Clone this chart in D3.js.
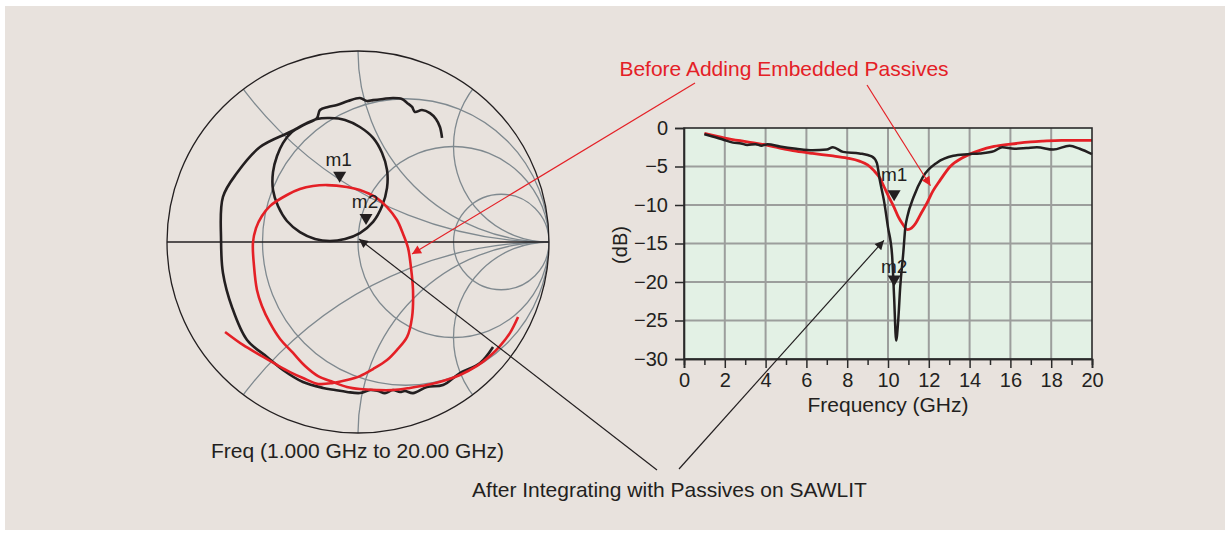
<!DOCTYPE html>
<html><head><meta charset="utf-8">
<script src="https://cdn.jsdelivr.net/npm/d3@7"></script>
<style>
html,body{margin:0;padding:0;background:#fff;}
svg{display:block;font-family:"Liberation Sans",Arial,Helvetica,sans-serif;}
</style></head><body>
<svg id="c" width="1230" height="535"></svg>
<script>
// ---------------- data ----------------
const xTicks = [0,2,4,6,8,10,12,14,16,18,20];
const xMinorTicks = [1,3,5,7,9,11,13,15,17,19];
const yTicks = [0,-5,-10,-15,-20,-25,-30];

const freqBlack = [1.0,1.4,1.9,2.4,2.8,3.1,3.5,3.8,4.1,4.7,5.5,6.3,7.0,7.3,7.8,8.6,9.2,9.45,9.6,9.8,10.0,10.2,10.3,10.4,10.5,10.6,10.75,10.85,10.95,11.25,11.7,12.4,13.2,13.9,14.5,15.2,15.6,16.2,16.8,17.3,18.1,18.9,19.4,20.0];
const dbBlack   = [-0.8,-1.1,-1.5,-1.9,-2.0,-2.2,-2.1,-2.3,-2.1,-2.4,-2.7,-2.9,-2.8,-2.5,-3.1,-3.3,-3.7,-4.5,-6.8,-9.4,-12.9,-16.5,-22.0,-27.6,-25.0,-20.6,-16.2,-12.9,-11.5,-9.0,-6.4,-4.5,-3.6,-3.4,-3.3,-3.0,-2.5,-2.7,-2.6,-2.5,-2.8,-2.3,-2.7,-3.4];

const freqRed = [1.0,2.0,3.1,4.0,4.7,5.5,6.3,7.2,8.0,8.6,9.0,9.3,9.6,9.8,10.05,10.3,10.5,10.7,10.95,11.15,11.35,11.6,11.9,12.2,12.55,13.05,13.7,14.5,15.2,16.0,17.0,17.6,18.5,20.0];
const dbRed   = [-0.7,-1.3,-1.8,-2.2,-2.6,-3.0,-3.3,-3.6,-3.9,-4.3,-4.8,-5.5,-6.5,-7.6,-9.0,-10.3,-11.5,-12.4,-13.2,-13.0,-12.4,-11.2,-9.8,-8.2,-6.8,-5.0,-3.8,-2.9,-2.4,-2.1,-1.8,-1.7,-1.6,-1.6];

// reflection coefficient (real, imaginary), 1 GHz -> 20 GHz
const smithBlackRe = [0.707,0.639,0.534,0.445,0.361,0.288,0.246,0.220,0.183,0.141,0.105,0.063,0.010,-0.058,-0.120,-0.183,-0.288,-0.393,-0.476,-0.581,-0.660,-0.707,-0.717,-0.707,-0.634,-0.513,-0.356,
  -0.277,-0.215,-0.147,-0.068,0.010,0.079,0.126,0.152,0.152,0.126,0.079,0.010,-0.068,-0.147,-0.225,-0.304,-0.372,-0.419,-0.445,-0.445,-0.424,-0.393,-0.346,-0.283,-0.215,
  -0.199,-0.157,-0.110,-0.052,0.010,0.047,0.079,0.131,0.183,0.230,0.257,0.283,0.298,0.335,0.377,0.408,0.429,0.440];
const smithBlackIm = [-0.550,-0.634,-0.686,-0.749,-0.759,-0.791,-0.780,-0.785,-0.775,-0.791,-0.780,-0.775,-0.791,-0.785,-0.775,-0.764,-0.733,-0.670,-0.602,-0.513,-0.340,-0.162,0.010,0.236,0.361,0.497,0.576,
  0.618,0.644,0.649,0.639,0.602,0.545,0.466,0.377,0.283,0.188,0.105,0.047,0.016,0.005,0.016,0.052,0.110,0.188,0.272,0.366,0.450,0.518,0.576,0.613,0.649,
  0.691,0.707,0.717,0.738,0.754,0.738,0.743,0.749,0.754,0.749,0.728,0.707,0.681,0.691,0.675,0.644,0.602,0.545];

const smithRedRe = [0.838,0.796,0.743,0.691,0.623,0.534,0.445,0.361,0.272,0.183,0.099,0.010,-0.058,-0.131,-0.209,-0.277,-0.340,-0.408,-0.461,-0.503,-0.529,-0.545,-0.550,-0.534,-0.503,-0.461,-0.372,-0.304,-0.236,-0.162,-0.058,0.010,0.099,0.152,0.204,0.236,0.262,0.277,0.288,0.283,0.257,0.204,0.152,0.079,0.010,-0.058,-0.131,-0.209,-0.288,-0.356,-0.424,-0.513,-0.602,-0.696];
const smithRedIm = [-0.393,-0.476,-0.545,-0.597,-0.649,-0.696,-0.728,-0.749,-0.764,-0.775,-0.775,-0.770,-0.759,-0.733,-0.702,-0.649,-0.581,-0.508,-0.424,-0.335,-0.251,-0.120,-0.005,0.073,0.136,0.188,0.246,0.277,0.293,0.298,0.288,0.272,0.230,0.183,0.115,0.042,-0.031,-0.131,-0.251,-0.393,-0.497,-0.565,-0.618,-0.665,-0.702,-0.723,-0.738,-0.743,-0.712,-0.681,-0.644,-0.592,-0.539,-0.471];

const resistanceCircles = [1/3, 1, 3];
const reactanceArcs = [0.5, 1, 2];

const markerNames = ["m1","m2"];
const markerFreq = [10.3, 10.3];
const markerDb = [-9.5, -20.6];
const markerRe = [-0.096, 0.042];
const markerIm = [0.31, 0.089];

// ---------------- drawing ----------------
const svg = d3.select("#c");
const INK = "#231f20", RED = "#e42026", GRID = "#7f898f";

svg.append("rect").attr("x",5).attr("y",6).attr("width",1220).attr("height",524).attr("fill","#e8e2dd");

const defs = svg.append("defs");
function arrowDef(id, color){
  defs.append("marker").attr("id",id).attr("viewBox","0 0 10 10").attr("refX",10).attr("refY",5)
    .attr("markerWidth",12).attr("markerHeight",9).attr("markerUnits","userSpaceOnUse").attr("orient","auto")
    .append("path").attr("d","M0,0L10,5L0,10Z").attr("fill",color);
}
arrowDef("arR", RED); arrowDef("arK", INK);

// ---- Smith chart ----
const sx = d3.scaleLinear().domain([-1,1]).range([167,549]);
const sy = d3.scaleLinear().domain([-1,1]).range([433,51]);
const sr = v => sx(v) - sx(0);

defs.append("clipPath").attr("id","unit").append("circle")
  .attr("cx",sx(0)).attr("cy",sy(0)).attr("r",sr(1));

const smith = svg.append("g");
const grid = smith.append("g").attr("clip-path","url(#unit)").attr("fill","none").attr("stroke",GRID).attr("stroke-width",1.3);
resistanceCircles.forEach(r => {
  grid.append("circle").attr("cx",sx(r/(r+1))).attr("cy",sy(0)).attr("r",sr(1/(r+1)));
});
reactanceArcs.forEach(x => {
  [1,-1].forEach(s => {
    grid.append("circle").attr("cx",sx(1)).attr("cy",sy(s/x)).attr("r",sr(1/x));
  });
});
smith.append("line").attr("x1",sx(-1)).attr("x2",sx(1)).attr("y1",sy(0)).attr("y2",sy(0))
  .attr("stroke",INK).attr("stroke-width",1.6);
smith.append("circle").attr("cx",sx(0)).attr("cy",sy(0)).attr("r",sr(1))
  .attr("fill","none").attr("stroke",INK).attr("stroke-width",1.3);

const sLine = d3.line().x(d=>sx(d[0])).y(d=>sy(d[1])).curve(d3.curveCatmullRom.alpha(0.5));
smith.append("path").datum(d3.zip(smithBlackRe, smithBlackIm)).attr("d",sLine)
  .attr("fill","none").attr("stroke",INK).attr("stroke-width",2.6).attr("stroke-linejoin","round");
smith.append("path").datum(d3.zip(smithRedRe, smithRedIm)).attr("d",sLine)
  .attr("fill","none").attr("stroke",RED).attr("stroke-width",2.6).attr("stroke-linejoin","round");

function tri(g, x, y){
  g.append("path").attr("d",`M${x-6.5},${y-11}L${x+6.5},${y-11}L${x},${y}Z`).attr("fill",INK);
}
markerNames.forEach((n,i) => {
  const x = sx(markerRe[i]), y = sy(markerIm[i]);
  tri(smith, x, y);
  smith.append("text").attr("x",x-1).attr("y",y-17).attr("text-anchor","middle")
    .attr("font-size",19).attr("fill",INK).text(n);
});

smith.append("text").attr("x",357.5).attr("y",458).attr("text-anchor","middle")
  .attr("font-size",21).attr("fill",INK).text("Freq (1.000 GHz to 20.00 GHz)");

// ---- dB plot ----
const x = d3.scaleLinear().domain([0,20]).range([684,1092]);
const y = d3.scaleLinear().domain([-30,0]).range([359,128]);
const plot = svg.append("g");
plot.append("rect").attr("x",x(0)).attr("y",y(0)).attr("width",x(20)-x(0)).attr("height",y(-30)-y(0)).attr("fill","#e3f1e5");
const gl = plot.append("g").attr("stroke","#9c9e9c").attr("stroke-width",2);
xTicks.slice(1,-1).forEach(t => gl.append("line").attr("x1",x(t)).attr("x2",x(t)).attr("y1",y(0)).attr("y2",y(-30)));
yTicks.slice(1,-1).forEach(t => gl.append("line").attr("y1",y(t)).attr("y2",y(t)).attr("x1",x(0)).attr("x2",x(20)));

const dLine = d3.line().x(d=>x(d[0])).y(d=>y(d[1])).curve(d3.curveMonotoneX);
plot.append("path").datum(d3.zip(freqRed, dbRed)).attr("d",dLine)
  .attr("fill","none").attr("stroke",RED).attr("stroke-width",2.8);
plot.append("path").datum(d3.zip(freqBlack, dbBlack)).attr("d",dLine)
  .attr("fill","none").attr("stroke",INK).attr("stroke-width",2.5).attr("stroke-linejoin","round");

plot.append("rect").attr("x",x(0)).attr("y",y(0)).attr("width",x(20)-x(0)).attr("height",y(-30)-y(0))
  .attr("fill","none").attr("stroke","#2a2a2a").attr("stroke-width",1.6);

const yAxis = plot.append("g").attr("transform",`translate(${x(0)},0)`)
  .call(d3.axisLeft(y).tickValues(yTicks).tickSize(9).tickPadding(7));
const xAxis = plot.append("g").attr("transform",`translate(0,${y(-30)})`)
  .call(d3.axisBottom(x).tickValues(xTicks).tickSize(9).tickPadding(5));
const xMinor = plot.append("g").attr("transform",`translate(0,${y(-30)})`)
  .call(d3.axisBottom(x).tickValues(xMinorTicks).tickSize(6).tickFormat(""));
[yAxis,xAxis,xMinor].forEach(a => {
  a.select(".domain").attr("stroke","#2a2a2a").attr("stroke-width",1.6);
  a.selectAll(".tick line").attr("stroke","#2a2a2a").attr("stroke-width",1.5);
  a.selectAll("text").attr("font-size",20).attr("fill",INK).attr("font-family","'Liberation Sans',Arial,sans-serif");
});

plot.append("text").attr("x",888).attr("y",411.5).attr("text-anchor","middle")
  .attr("font-size",21).attr("fill",INK).text("Frequency (GHz)");
plot.append("text").attr("transform","translate(627,245) rotate(-90)").attr("text-anchor","middle")
  .attr("font-size",20).attr("fill",INK).text("(dB)");

const dbLabelOff = [20, 14];
markerNames.forEach((n,i) => {
  const px = x(markerFreq[i]), py = y(markerDb[i]);
  tri(plot, px, py);
  plot.append("text").attr("x",px).attr("y",py-dbLabelOff[i]).attr("text-anchor","middle")
    .attr("font-size",19).attr("fill",INK).text(n);
});

// ---- annotations ----
const ann = svg.append("g");
ann.append("text").attr("x",784).attr("y",76).attr("text-anchor","middle")
  .attr("font-size",21).attr("fill",RED).text("Before Adding Embedded Passives");
ann.append("text").attr("x",669.5).attr("y",497).attr("text-anchor","middle")
  .attr("font-size",21).attr("fill",INK).text("After Integrating with Passives on SAWLIT");

function arrow(x1,y1,x2,y2,color,id){
  ann.append("line").attr("x1",x1).attr("y1",y1).attr("x2",x2).attr("y2",y2)
    .attr("stroke",color).attr("stroke-width",1.2).attr("marker-end",`url(#${id})`);
}
arrow(695,83, sx(0.283), sy(-0.063), RED, "arR");
arrow(867,85, x(12.08), y(-7.5), RED, "arR");
arrow(657,470, sx(0.005), sy(0.016), INK, "arK");
arrow(679,469, x(9.8), y(-14.6), INK, "arK");
</script>
</body></html>
